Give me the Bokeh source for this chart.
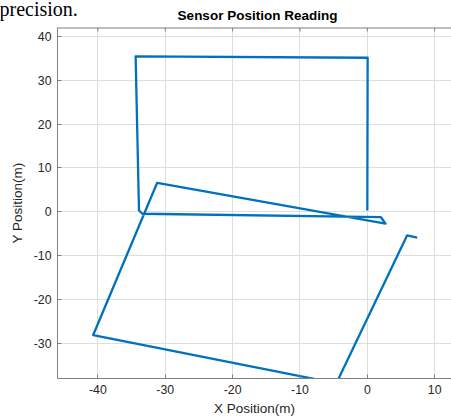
from bokeh.plotting import figure
from bokeh.layouts import column
from bokeh.models import FixedTicker, Span
from bokeh.core.properties import value
from bokeh.embed import file_html
from bokeh.resources import INLINE

# Sensor path (metres)
x_pos = [0.0, 0.05, -34.4, -33.9, -33.4, 2.0, 2.7, -31.2, -40.7, -4.6, 5.9, 7.4]
y_pos = [0.3, 35.1, 35.4, 0.3, -0.45, -1.2, -2.7, 6.6, -28.1, -39.1, -5.4, -5.9]

x_ticks = [-40, -30, -20, -10, 0, 10]
y_ticks = [-30, -20, -10, 0, 10, 20, 30, 40]

title_text = "Sensor Position Reading"
clip_text = "precision."

X_MIN, X_MAX = -46, 12.5
Y_MIN, Y_MAX = -38, 42

FONT = "Liberation Sans"
TXT = "#262626"
AX = "#808080"

W = 451
TOP_H = 27
MAIN_H = 419 - TOP_H
LEFT = 57

# ---- header strip: clipped document text + chart title ----
head = figure(width=W, height=TOP_H, x_range=(0, W), y_range=(TOP_H, 0),
              output_backend="svg", toolbar_location=None,
              min_border=0, x_axis_type=None, y_axis_type=None)
if "frame_align" in head.properties():
    head.frame_align = False
head.grid.visible = False
head.outline_line_color = None
head.background_fill_color = "white"
head.border_fill_color = "white"
head.text(x=[-1], y=[8], text=[clip_text], text_font=value("Liberation Serif"),
          text_font_size="20px", text_color="#000000", text_baseline="alphabetic",
          text_align="left")
head.text(x=[(LEFT + W) / 2 + 3], y=[15], text=[title_text], text_font=value(FONT),
          text_font_size="13.5px", text_font_style="bold", text_color="#000000",
          text_baseline="alphabetic", text_align="center")

# ---- main plot ----
p = figure(width=W, height=MAIN_H, x_range=(X_MIN, X_MAX), y_range=(Y_MIN, Y_MAX),
           output_backend="svg", toolbar_location=None,
           min_border_left=LEFT, min_border_right=0, min_border_top=0, min_border_bottom=41)
if "frame_align" in p.properties():
    p.frame_align = False

p.line(x_pos, y_pos, line_width=2.3, color="#0072BD", line_join="round")

bottom_axis = p.below[0]
left_axis = p.left[0]

for ax in (bottom_axis, left_axis):
    ax.major_label_text_font = FONT
    ax.major_label_text_font_size = "12.3px"
    ax.major_label_text_color = TXT
    ax.axis_label_text_font = FONT
    ax.axis_label_text_font_size = "13.5px"
    ax.axis_label_text_font_style = "normal"
    ax.axis_label_text_color = TXT
    ax.axis_line_color = AX
    ax.major_tick_line_color = AX
    ax.major_tick_in = 4
    ax.major_tick_out = 0
    ax.minor_tick_line_color = None

bottom_axis.ticker = FixedTicker(ticks=x_ticks)
left_axis.ticker = FixedTicker(ticks=y_ticks)
bottom_axis.major_label_overrides = {t: str(t) for t in x_ticks}
left_axis.major_label_overrides = {t: str(t) for t in y_ticks}
bottom_axis.axis_label = "X Position(m)"
left_axis.axis_label = "Y Position(m)"
bottom_axis.major_label_standoff = 6
bottom_axis.axis_label_standoff = 4
left_axis.major_label_standoff = 6
left_axis.axis_label_standoff = 6

p.xgrid.ticker = FixedTicker(ticks=x_ticks)
p.ygrid.ticker = FixedTicker(ticks=y_ticks)
p.xgrid.grid_line_color = "#dedede"
p.ygrid.grid_line_color = "#dedede"
p.xgrid.grid_line_width = 1
p.ygrid.grid_line_width = 1

p.outline_line_color = None

# top box edge with inward ticks (MATLAB "box on")
p.add_layout(Span(location=Y_MAX, dimension="width", line_color=AX, line_width=2))
p.segment(x0=x_ticks, y0=[Y_MAX] * len(x_ticks), x1=x_ticks,
          y1=[Y_MAX - 0.9] * len(x_ticks), line_color=AX, line_width=1)

p.background_fill_color = "white"
p.border_fill_color = "white"

layout = column(head, p, spacing=0)
open("out.html", "w").write(file_html(layout, INLINE))
